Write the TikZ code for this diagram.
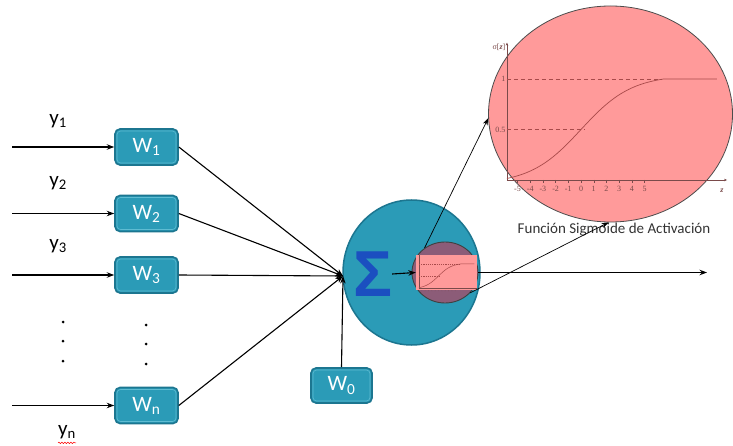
\documentclass[tikz,border=0pt]{standalone}
\usepackage{fontspec}
\setmainfont{Carlito}
\newfontfamily\plotfont{Liberation Serif}
\newfontfamily\sumfont{Liberation Sans}
\usetikzlibrary{arrows.meta,decorations.pathmorphing,shapes.geometric}
\definecolor{tealfill}{HTML}{2B9BB7}
\definecolor{tealdark}{HTML}{1C7690}
\definecolor{teallight}{HTML}{5FBCD2}
\definecolor{pinkfill}{HTML}{FF9A9A}
\definecolor{mauve}{HTML}{8C5C78}
\definecolor{plotred}{HTML}{A84A4A}
\definecolor{plotaxis}{HTML}{7A4A4A}
\definecolor{sigmablue}{HTML}{1B4FC0}

% sigmoid plot in local units (z along x, sigma along y)
\newcommand\sigmacurve{%
  \draw[plotred, line width=0.7pt] plot[domain=-5.83:6.5, samples=60, smooth]
    (\x, {0.5+0.5*tanh(\x/4)/tanh(6.5/4)}) -- (10.7,1);}

\begin{document}
\begin{tikzpicture}[x=1pt, y=-1pt,
  wbox/.style={rectangle, rounded corners=5pt, fill=tealfill, draw=tealdark,
    line width=1.6pt, minimum width=63pt, minimum height=36pt, text=white,
    font=\fontsize{22}{22}\selectfont, inner sep=0pt},
  inner/.style={draw=teallight, line width=0.6pt, rounded corners=3.5pt},
  inarrow/.style={-{Stealth[length=7.5pt,width=5.5pt]}, line width=1.1pt},
  zoomarrow/.style={-{Stealth[length=7pt,width=5pt]}, line width=0.7pt},
  ylab/.style={font=\fontsize{21}{22}\selectfont, inner sep=0pt},
  ticklab/.style={font=\plotfont\fontsize{8}{8}\selectfont, text=plotaxis, inner sep=0.5pt},
]
\fill[white] (0,0) rectangle (733,446);
\useasboundingbox (0,0) rectangle (733,446);

% weight boxes
\node[wbox] (w1) at (146.5,147) {W\textsubscript{1}};
\node[wbox] (w2) at (146.5,213.5) {W\textsubscript{2}};
\node[wbox] (w3) at (146.5,275) {W\textsubscript{3}};
\node[wbox] (wn) at (146.5,405.5) {W\textsubscript{n}};
\node[wbox, minimum width=61pt, minimum height=35pt] (w0) at (341.5,385.5) {W\textsubscript{0}};
\foreach \n in {w1,w2,w3,wn,w0}
  \draw[inner] ([shift={(2.8pt,-2.8pt)}]\n.north west) rectangle ([shift={(-2.8pt,2.8pt)}]\n.south east);

% input labels
\node[ylab] (y1) at (58,121) {y\textsubscript{1}};
\node[ylab] (y2) at (58,183) {y\textsubscript{2}};
\node[ylab] (y3) at (58,246) {y\textsubscript{3}};
\node[ylab] (yn) at (67,432) {y\textsubscript{n}};
\draw[red, line width=0.5pt, decorate, decoration={snake, amplitude=0.7pt, segment length=3pt}]
  ([yshift=-4pt]yn.south west) -- ([yshift=-4pt]yn.south east);

% input arrows
\coordinate (in1) at (12,147);
\coordinate (in2) at (12,213.5);
\coordinate (in3) at (12,275);
\coordinate (inn) at (12,405.5);
\draw[inarrow] (in1) -- (w1.west);
\draw[inarrow] (in2) -- (w2.west);
\draw[inarrow] (in3) -- (w3.west);
\draw[inarrow] (inn) -- (wn.west);

% ellipsis dots
\foreach \yy in {322,341,361} \fill (63,\yy) circle (1.5pt);
\foreach \yy in {325,344,364} \fill (146,\yy) circle (1.5pt);

% neuron body
\node[ellipse, fill=tealfill, draw=tealdark, line width=1.5pt, minimum width=137pt,
  minimum height=145pt, inner sep=0pt] (neuron) at (411.5,272.5) {};
\coordinate (sumin) at (343,276);
\draw[inarrow] (w1.east) -- (sumin);
\draw[inarrow] (w2.east) -- (sumin);
\draw[inarrow] (w3.east) -- (sumin);
\draw[inarrow] (wn.east) -- (sumin);
\draw[inarrow] (w0.north) -- (sumin);

\node[text=sigmablue, font=\sumfont\bfseries\fontsize{65}{65}\selectfont, inner sep=0pt] (sig) at (372.5,274) {Σ};

% activation (small)
\node[ellipse, fill=mauve, draw=black!75, line width=0.9pt, minimum width=66pt,
  minimum height=61pt, inner sep=0pt] (act) at (445,272.5) {};
\node[rectangle, fill=pinkfill, minimum width=61pt, minimum height=35pt, inner sep=0pt] (mini) at (446.5,272.5) {};
\begin{scope}[shift={(438.5,288)}, x={(3.35pt,0pt)}, y={(0pt,24pt)}]
  \draw[plotaxis, line width=0.4pt] (-5.83,0) -- (11.5,0);
  \draw[plotaxis, line width=0.4pt] (-5.83,0) -- (-5.83,1.36);
  \draw[plotred, line width=0.4pt, dash pattern=on 1.2pt off 1pt] (-5.83,1) -- (6.3,1);
  \draw[plotred, line width=0.4pt, dash pattern=on 1.2pt off 1pt] (-5.83,0.5) -- (0.3,0.5);
  \draw[plotred, line width=0.5pt] plot[domain=-5.83:6.5, samples=40, smooth]
    (\x, {0.5+0.5*tanh(\x/4)/tanh(6.5/4)}) -- (10.7,1);
  \foreach \t in {-5,...,5} \fill[plotaxis] (\t,-0.12) circle (0.35pt);
\end{scope}
\draw[inarrow] (sig.east) -- (mini.west);
\draw[inarrow] (act.east) -- (707,272.5) coordinate (out);

% magnified activation
\node[ellipse, fill=pinkfill, draw=black!70, line width=0.8pt, minimum width=244pt,
  minimum height=216pt, inner sep=0pt] (zoomell) at (610.5,114) {};
\begin{scope}[shift={(581,180)}, x={(12.7pt,0pt)}, y={(0pt,101pt)}]
  \draw[plotaxis, line width=0.6pt, -{Stealth[length=3pt,width=2.5pt]}] (-5.83,0) -- (11.5,0);
  \draw[plotaxis, line width=0.6pt, -{Stealth[length=3pt,width=2.5pt]}] (-5.83,0) -- (-5.83,1.36);
  \draw[plotred, line width=0.7pt, dash pattern=on 4pt off 3pt] (-5.83,1) -- (6.3,1);
  \draw[plotred, line width=0.7pt, dash pattern=on 4pt off 3pt] (-5.83,0.5) -- (0.3,0.5);
  \sigmacurve
  \foreach \t in {-5,...,5} {
    \draw[plotaxis, line width=0.4pt] (\t,0) -- (\t,-0.03);
    \node[ticklab] at (\t,-0.085) {\t};
  }
  \node[ticklab, anchor=east] at (-5.9,1) {1};
  \node[ticklab, anchor=east] at (-5.9,0.5) {0.5};
  \node[ticklab, anchor=east] at (-5.9,1.31) {σ[\textbf{\textit{z}}]};
  \node[ticklab] at (11.1,-0.11) {\textbf{\textit{z}}};
\end{scope}
\node[text=black!80, font=\fontsize{15}{16}\selectfont] (cap) at (614,230) {Función Sigmoide de Activación};

% zoom connectors
\draw[zoomarrow] (act.130) -- (zoomell.182);
\draw[zoomarrow] (act.321) -- (zoomell.269);
\end{tikzpicture}
\end{document}
